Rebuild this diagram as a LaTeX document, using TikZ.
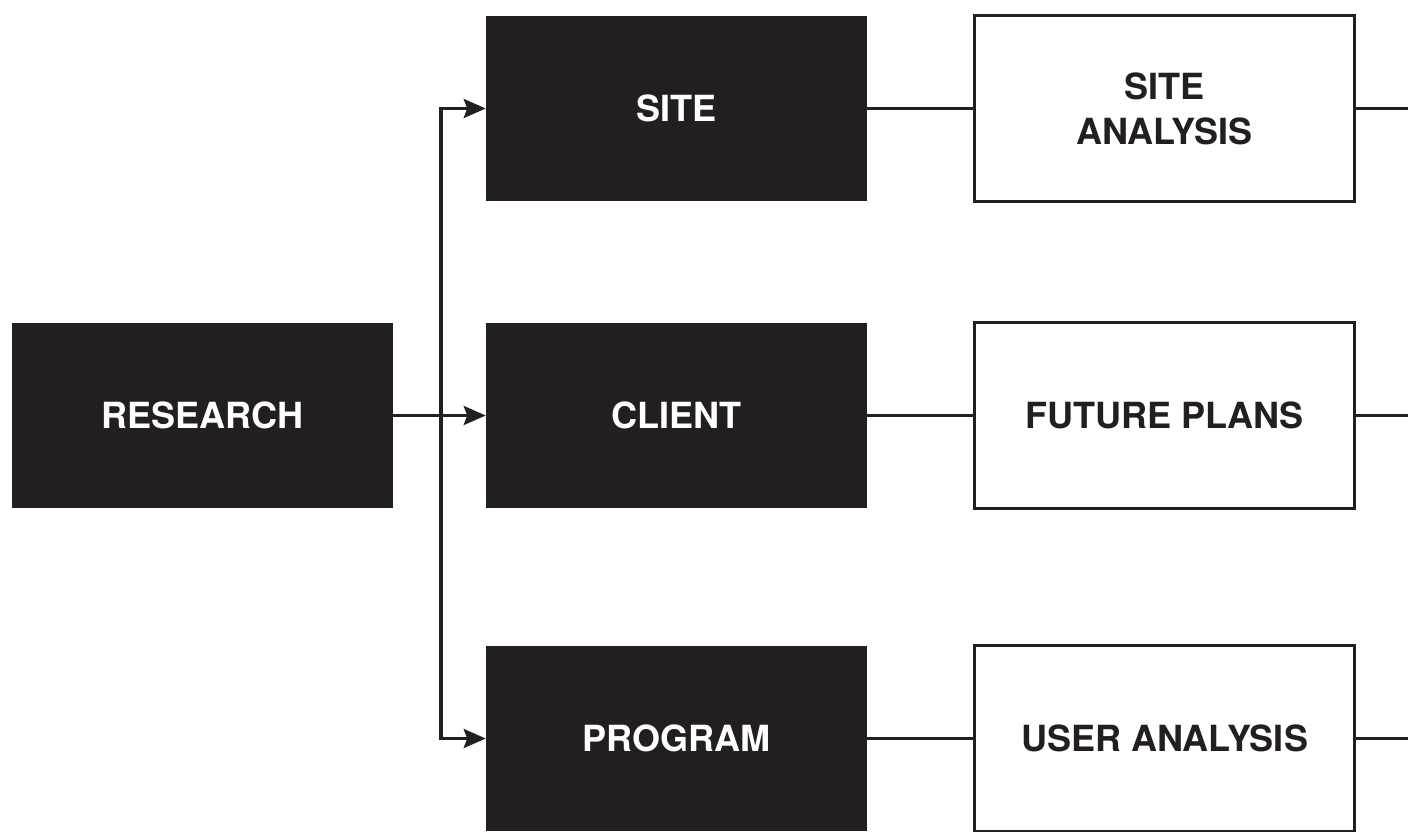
\documentclass[tikz,border=0pt]{standalone}
\usepackage{fontspec}
\setmainfont{TeX Gyre Heros}
\usepackage{tikz}
\usetikzlibrary{arrows.meta}

\definecolor{ink}{RGB}{35,31,32}

\tikzset{
  darkbox/.style={rectangle, fill=ink, text=white, minimum width=7.62cm, minimum height=3.7cm, inner sep=0pt, align=center, font=\fontsize{20.5}{25.5}\selectfont\bfseries},
  lightbox/.style={rectangle, draw=ink, fill=white, text=ink, line width=1.8pt, minimum width=7.6cm, minimum height=3.72cm, inner sep=0pt, align=center, font=\fontsize{20.5}{25.5}\selectfont\bfseries},
  link/.style={draw=ink, line width=1.8pt},
  feed/.style={link, -{Stealth[length=12.5pt, width=10.8pt, inset=2pt]}}
}

\begin{document}
\begin{tikzpicture}[x=0.02cm, y=-0.02cm]
\useasboundingbox (0, 0) rectangle (1408, 831);
% first column
\node [darkbox] (research) at (202.5, 415.5) {RESEARCH};
% second column
\node [darkbox] (site) at (676.5, 108.5) {SITE};
\node [darkbox] (client) at (676.5, 415.5) {CLIENT};
\node [darkbox] (program) at (676.5, 738.5) {PROGRAM};
% third column
\node [lightbox] (siteanalysis) at (1164.5, 108.5) {SITE\\ANALYSIS};
\node [lightbox] (futureplans) at (1164.5, 415.5) {FUTURE PLANS};
\node [lightbox] (useranalysis) at (1164.5, 738.5) {USER ANALYSIS};
\coordinate (split) at (441, 415.5);
\coordinate (outa) at (1410, 108.5);
\coordinate (outb) at (1410, 415.5);
\coordinate (outc) at (1410, 738.5);
\draw [link](research.east) -- (split);
\draw [feed](split) |- (site.west);
\draw [feed](split) -- (client.west);
\draw [feed](split) |- (program.west);
\draw [link](site.east) -- (siteanalysis.west);
\draw [link](client.east) -- (futureplans.west);
\draw [link](program.east) -- (useranalysis.west);
\draw [link](siteanalysis.east) -- (outa);
\draw [link](futureplans.east) -- (outb);
\draw [link](useranalysis.east) -- (outc);
\end{tikzpicture}
\end{document}
